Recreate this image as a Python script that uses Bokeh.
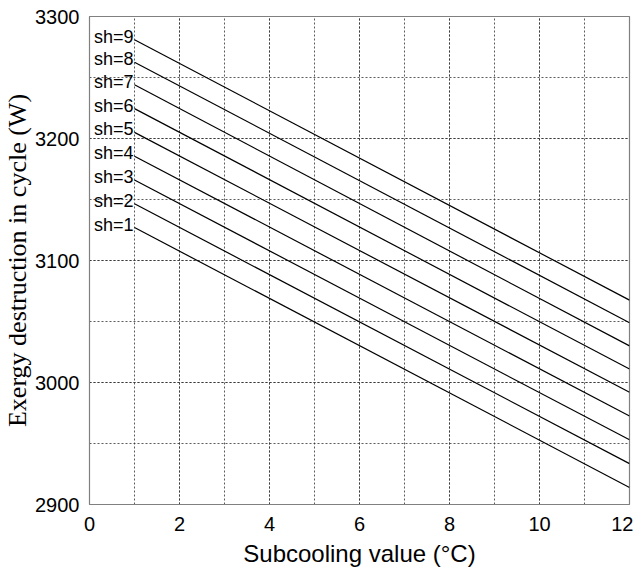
from bokeh.plotting import figure
from bokeh.models import Range1d, FixedTicker, ColumnDataSource
from bokeh.core.properties import value
from bokeh.embed import file_html
from bokeh.resources import INLINE

# Data
x_ends = [1, 12]
sh_levels = [1, 2, 3, 4, 5, 6, 7, 8, 9]
start_values = [3127, 3146.5, 3166, 3185.5, 3205, 3224.5, 3244, 3262.5, 3281]
end_values = [2914, 2933.5, 2953, 2972.5, 2992, 3011, 3030, 3049, 3067.5]
x_ticks = [0, 2, 4, 6, 8, 10, 12]
y_ticks = [2900, 3000, 3100, 3200, 3300]

p = figure(frame_width=540, frame_height=488, output_backend="svg", toolbar_location=None,
           x_range=Range1d(0, 12), y_range=Range1d(2900, 3300),
           min_border_left=82, min_border_top=16, min_border_right=4, min_border_bottom=56)

p.outline_line_color = "#808080"
p.outline_line_width = 1.2

# grids
for ax, ticks, minors in ((p.xaxis, x_ticks, list(range(0, 13))),
                          (p.yaxis, y_ticks, list(range(2900, 3301, 50)))):
    ax.ticker = FixedTicker(ticks=ticks, minor_ticks=minors)

for g in (p.xgrid, p.ygrid):
    g.grid_line_color = "#333333"
    g.grid_line_dash = "2 2"
    g.grid_line_width = 1
    g.grid_line_alpha = 0.8
    g.minor_grid_line_color = "#333333"
    g.minor_grid_line_dash = "2 2"
    g.minor_grid_line_alpha = 0.8

for ax in (p.xaxis, p.yaxis):
    ax.axis_line_color = "#808080"
    ax.major_tick_line_color = None
    ax.minor_tick_line_color = None
    ax.major_label_text_font = "Liberation Sans"
    ax.major_label_text_font_size = "20px"
    ax.major_label_text_color = "black"
    ax.axis_label_text_color = "black"

p.xaxis.major_label_standoff = 6
p.yaxis.major_label_standoff = 4
p.xaxis.axis_label = "Subcooling value (°C)"
p.xaxis.axis_label_text_font = "Liberation Sans"
p.xaxis.axis_label_text_font_style = "normal"
p.xaxis.axis_label_text_font_size = "24px"
p.xaxis.axis_label_standoff = 6
p.yaxis.axis_label = "Exergy destruction in cycle (W)"
p.yaxis.axis_label_text_font = "Liberation Serif"
p.yaxis.axis_label_text_font_style = "normal"
p.yaxis.axis_label_text_font_size = "26px"
p.yaxis.axis_label_standoff = 0

xs = [list(x_ends) for _ in sh_levels]
ys = [[s, e] for s, e in zip(start_values, end_values)]
p.multi_line(xs=xs, ys=ys, line_color="black", line_width=1.2)

src = ColumnDataSource(dict(
    x=[x_ends[0]] * len(sh_levels),
    y=start_values,
    t=["sh=%d" % s for s in sh_levels],
))
p.text(x="x", y="y", text="t", source=src, text_align="right", text_baseline="middle",
       x_offset=-1, y_offset=-3, text_font=value("Liberation Sans"),
       text_font_size="18px", text_color="black")

open("out.html", "w").write(file_html(p, INLINE))
